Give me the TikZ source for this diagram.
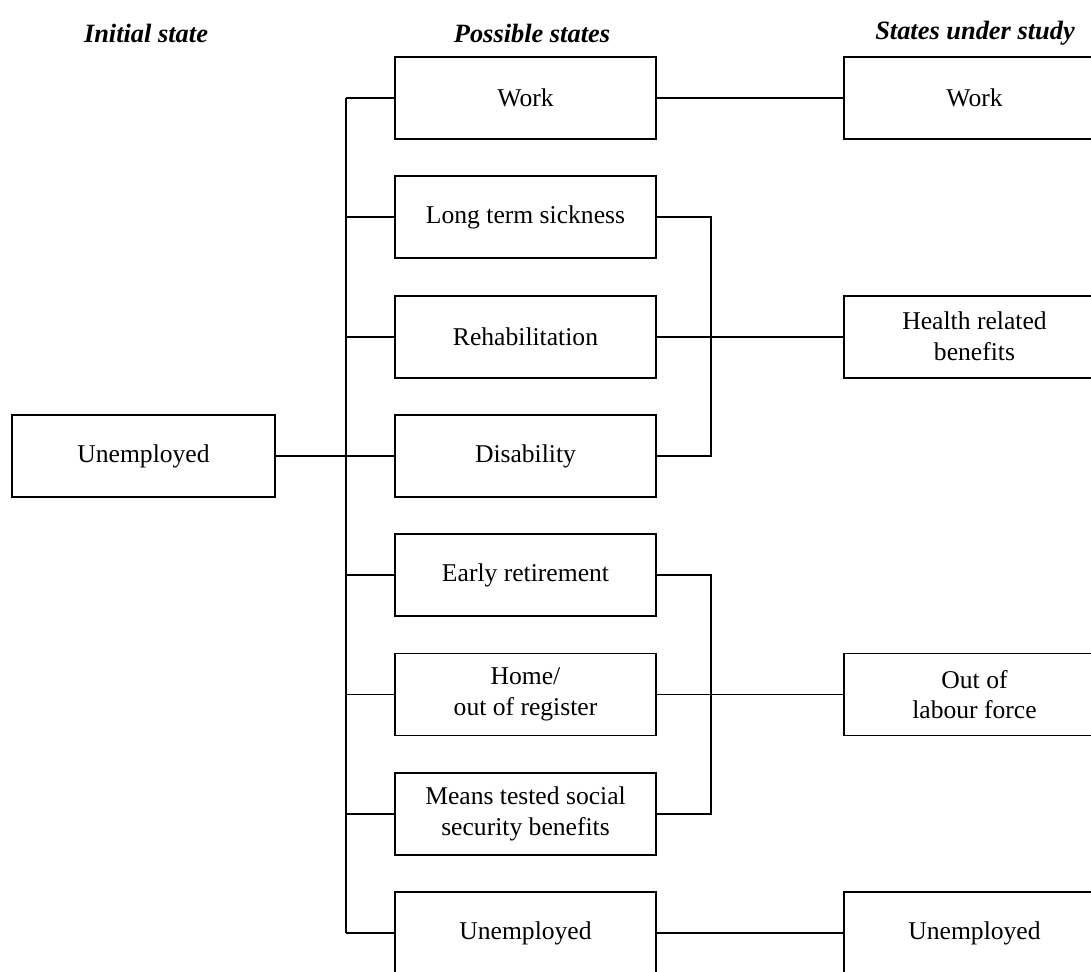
\documentclass[tikz,border=0pt]{standalone}
\usepackage{fontspec}
\setmainfont{Liberation Serif}
\usetikzlibrary{positioning}

\begin{document}
\begin{tikzpicture}[x=0.5pt, y=-0.5pt,
      every node/.style={font=\fontsize{12.8}{15.4}\selectfont},
      state/.style={draw, line width=0.9pt, minimum width=130.5pt, minimum height=41pt,
                    align=center, inner sep=2pt},
      head/.style={font=\fontsize{13.2}{15}\selectfont\bfseries\itshape},
      link/.style={line width=0.9pt},
      node distance=17.75pt
    ]
    \useasboundingbox (0,0) rectangle (1091,971);
    \clip (0,0) rectangle (1091,971);
    % column headings
    \node[head] (hinit) at (146,33) {Initial state};
    \node[head] (hposs) at (532,33) {Possible states};
    \node[head] (hstud) at (975,33) {States under study};
    % possible states
    \node[state] (work) at (525.5,98) {Work};
    \node[state, below=of work]  (sick)  {Long term sickness};
    \node[state, below=of sick]  (rehab) {Rehabilitation};
    \node[state, below=of rehab] (disab) {Disability};
    \node[state, below=of disab] (early) {Early retirement};
    \node[state, below=of early] (home)  {Home/\\out of register};
    \node[state, below=of home]  (means) {Means tested social\\security benefits};
    \node[state, below=of means] (unemp) {Unemployed};
    % initial state and states under study
    \node[state, minimum width=131.5pt, left=59.1pt of disab] (init) {Unemployed};
    \node[state] (rwork)   at (974.5,98)      {Work};
    \node[state] (health)  at (rwork |- rehab) {Health related\\benefits};
    \node[state] (outlab)  at (rwork |- home)  {Out of\\labour force};
    \node[state] (runemp)  at (rwork |- unemp) {Unemployed};
    % connectors
    \coordinate (bus) at (346,0);
    \coordinate (bra) at (711,0);
    \draw[link] (bus |- work.west) -- (bus |- unemp.west);
    \foreach \n in {work,sick,rehab,disab,early,home,means,unemp}
      \draw[link] (bus |- \n.west) -- (\n.west);
    \draw[link] (init.east) -- (disab.west);
    \draw[link] (sick.east) -- (bra |- sick.east) -- (bra |- disab.east) -- (disab.east);
    \draw[link] (early.east) -- (bra |- early.east) -- (bra |- means.east) -- (means.east);
    \draw[link] (work.east) -- (rwork.west);
    \draw[link] (rehab.east) -- (health.west);
    \draw[link] (home.east) -- (outlab.west);
    \draw[link] (unemp.east) -- (runemp.west);
  \end{tikzpicture}
\end{document}
